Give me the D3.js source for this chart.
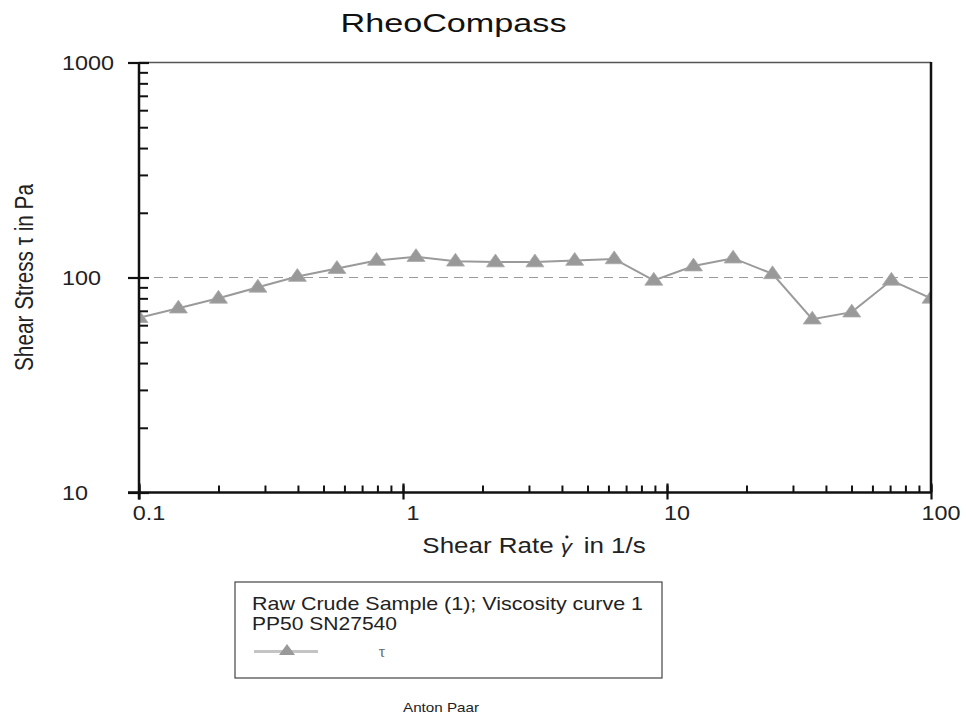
<!DOCTYPE html>
<html>
<head>
<meta charset="utf-8">
<script src="https://cdn.jsdelivr.net/npm/d3@7"></script>
<style>
  html, body { margin: 0; padding: 0; background: #fff; }
  svg { display: block; font-family: "Liberation Sans", Arial, sans-serif; }
</style>
</head>
<body>
<svg id="chart" width="966" height="715"></svg>
<script>
// ---- data ----
const shearRate   = [0.1, 0.141, 0.2, 0.282, 0.398, 0.562, 0.794, 1.12, 1.58, 2.24, 3.16, 4.47, 6.31, 8.91, 12.6, 17.8, 25.1, 35.5, 50.1, 70.8, 100];
const shearStress = [65, 72, 80, 90, 101, 110, 120, 125, 119, 118, 118, 120, 122, 97, 113, 123, 104, 64, 69, 97, 80];
const xMajorTicks = [0.1, 1, 10, 100];
const xTickLabels = ["0.1", "1", "10", "100"];
const yMajorTicks = [10, 100, 1000];
const yTickLabels = ["10", "100", "1000"];
const referenceLine = [100];
const titleText = "RheoCompass";
const xLabelParts = ["Shear Rate ", "\u03B3", "in 1/s"];
const yLabelText = "Shear Stress  \u03C4  in Pa";
const legendLines = ["Raw Crude Sample (1); Viscosity curve 1", "PP50 SN27540"];
const legendSymbolLabel = "\u03C4";
const footerText = "Anton Paar";

// ---- layout ----
const svg = d3.select("#chart");
const L = 139, R = 931, T = 62.5, B = 492.5;
const SX = 1.17; // horizontal text stretch of the reference

const x = d3.scaleLog().domain([0.1, 100]).range([L, R]);
const y = d3.scaleLog().domain([10, 1000]).range([B, T]);

const minorTicks = (lo, hi) => {
  const out = [];
  for (let d = lo; d < hi; d *= 10) for (let k = 1; k < 10; k++) out.push(d * k);
  out.push(hi);
  return out;
};

// clip
svg.append("defs").append("clipPath").attr("id", "plotClip")
  .append("rect").attr("x", L).attr("y", T).attr("width", R - L).attr("height", B - T);

// reference dashed line
svg.append("g").selectAll("line").data(referenceLine).join("line")
  .attr("x1", L).attr("x2", R)
  .attr("y1", d => y(d)).attr("y2", d => y(d))
  .attr("stroke", "#9a9a9a").attr("stroke-width", 1.1)
  .attr("stroke-dasharray", "9,6");

// series line
const pts = shearRate.map((r, i) => [r, shearStress[i]]);
const plot = svg.append("g").attr("clip-path", "url(#plotClip)");
plot.append("path").datum(pts)
  .attr("fill", "none").attr("stroke", "#9a9a9a").attr("stroke-width", 2)
  .attr("d", d3.line().x(d => x(d[0])).y(d => y(d[1])));

const tri = "M0,-8L9,4.8L-9,4.8Z";
plot.selectAll("path.m").data(pts).join("path").attr("class", "m")
  .attr("d", tri)
  .attr("transform", d => `translate(${x(d[0])},${y(d[1])})`)
  .attr("fill", "#999").attr("stroke", "#a8a8a8").attr("stroke-width", 0.8);

// frame: top thin, right thick
svg.append("line").attr("x1", L).attr("x2", R).attr("y1", T).attr("y2", T)
  .attr("stroke", "#555").attr("stroke-width", 1.3);
svg.append("line").attr("x1", R).attr("x2", R).attr("y1", T - 0.6).attr("y2", B)
  .attr("stroke", "#111").attr("stroke-width", 2.5);

// y axis ticks
const yIn = svg.append("g").attr("transform", `translate(${L},0)`)
  .call(d3.axisRight(y).tickValues(minorTicks(10, 1000)).tickSize(9).tickFormat(""));
yIn.select(".domain").remove();
yIn.selectAll(".tick line").attr("stroke", "#111").attr("stroke-width", 2);
const yOut = svg.append("g").attr("transform", `translate(${L},0)`)
  .call(d3.axisLeft(y).tickValues(yMajorTicks).tickSize(11).tickFormat(""));
yOut.select(".domain").remove();
yOut.selectAll(".tick line").attr("stroke", "#111").attr("stroke-width", 2.2);
const yMajIn = svg.append("g").attr("transform", `translate(${L},0)`)
  .call(d3.axisRight(y).tickValues(yMajorTicks).tickSize(10).tickFormat(""));
yMajIn.select(".domain").remove();
yMajIn.selectAll(".tick line").attr("stroke", "#111").attr("stroke-width", 2.2);

// x axis ticks
const xIn = svg.append("g").attr("transform", `translate(0,${B})`)
  .call(d3.axisTop(x).tickValues(minorTicks(0.1, 100)).tickSize(7).tickFormat(""));
xIn.select(".domain").remove();
xIn.selectAll(".tick line").attr("stroke", "#111").attr("stroke-width", 2);
const xOut = svg.append("g").attr("transform", `translate(0,${B})`)
  .call(d3.axisBottom(x).tickValues(xMajorTicks).tickSize(7).tickFormat(""));
xOut.select(".domain").remove();
xOut.selectAll(".tick line").attr("stroke", "#111").attr("stroke-width", 2.2);
const xMajUp = svg.append("g").attr("transform", `translate(0,${B})`)
  .call(d3.axisTop(x).tickValues(xMajorTicks).tickSize(9).tickFormat(""));
xMajUp.select(".domain").remove();
xMajUp.selectAll(".tick line").attr("stroke", "#111").attr("stroke-width", 2.2);

// axis lines
svg.append("line").attr("x1", L).attr("x2", L).attr("y1", T - 0.6).attr("y2", B + 7)
  .attr("stroke", "#111").attr("stroke-width", 2.5);
svg.append("line").attr("x1", L - 11).attr("x2", R + 1).attr("y1", B).attr("y2", B)
  .attr("stroke", "#111").attr("stroke-width", 2.5);

// tick labels
svg.append("g").selectAll("text").data(yMajorTicks).join("text")
  .attr("transform", d => `translate(62,${y(d) + 7.3}) scale(${SX},1)`)
  .attr("font-size", 20).attr("fill", "#222")
  .text((d, i) => yTickLabels[i]);
svg.append("g").selectAll("text").data(xMajorTicks).join("text")
  .attr("transform", d => `translate(${x(d) + 10},520) scale(${SX},1)`)
  .attr("text-anchor", "middle")
  .attr("font-size", 20).attr("fill", "#222")
  .text((d, i) => xTickLabels[i]);

// title
svg.append("text").attr("x", 453.5).attr("y", 31.5)
  .attr("text-anchor", "middle").attr("font-size", 26).attr("fill", "#111")
  .attr("textLength", 226).attr("lengthAdjust", "spacingAndGlyphs")
  .text(titleText);

// x axis label with dotted gamma
const xg = svg.append("g").attr("transform", `translate(534,552.5) scale(1.18,1)`);
const xl = xg.append("text")
  .attr("text-anchor", "middle").attr("font-size", 22).attr("fill", "#222");
xl.append("tspan").text(xLabelParts[0]);
xl.append("tspan").attr("font-style", "italic").attr("font-size", 19).text(xLabelParts[1]);
xl.append("tspan").attr("dx", "0.45em").text(xLabelParts[2]);
// dot above gamma (time-derivative mark)
{
  const node = xl.node();
  const gi = xLabelParts[0].length;
  const ext = node.getExtentOfChar(gi);
  xg.append("circle")
    .attr("cx", ext.x + ext.width * 0.55)
    .attr("cy", -15.5)
    .attr("r", 1.4)
    .attr("fill", "#222");
}

// y axis label
svg.append("g").attr("transform", `translate(33,${(T + B) / 2}) scale(${SX},1) rotate(-90)`)
  .append("text").attr("x", 0).attr("y", 0)
  .attr("text-anchor", "middle").attr("font-size", 21.5).attr("fill", "#222")
  .attr("textLength", 187).attr("lengthAdjust", "spacingAndGlyphs")
  .text(yLabelText);

// legend
const lg = svg.append("g");
lg.append("rect").attr("x", 235).attr("y", 582).attr("width", 427).attr("height", 96)
  .attr("fill", "none").attr("stroke", "#444").attr("stroke-width", 1.2);
const legendLens = [391, 145];
lg.selectAll("text.l").data(legendLines).join("text").attr("class", "l")
  .attr("x", 252).attr("y", (d, i) => 610 + i * 20)
  .attr("font-size", 18.5).attr("fill", "#222")
  .attr("textLength", (d, i) => legendLens[i]).attr("lengthAdjust", "spacingAndGlyphs")
  .text(d => d);
lg.append("line").attr("x1", 254).attr("x2", 318).attr("y1", 651.5).attr("y2", 651.5)
  .attr("stroke", "#c4c4c4").attr("stroke-width", 3);
lg.append("path").attr("d", "M0,-7L8,4L-8,4Z").attr("transform", "translate(287,651)")
  .attr("fill", "#999");
lg.append("text").attr("x", 382).attr("y", 657).attr("text-anchor", "middle")
  .attr("font-family", "'Liberation Serif', serif")
  .attr("font-size", 16).attr("fill", "#666").text(legendSymbolLabel);

// footer
svg.append("text").attr("transform", `translate(441,711.5) scale(${SX},1)`)
  .attr("text-anchor", "middle").attr("font-size", 13).attr("fill", "#222")
  .text(footerText);
</script>
</body>
</html>
